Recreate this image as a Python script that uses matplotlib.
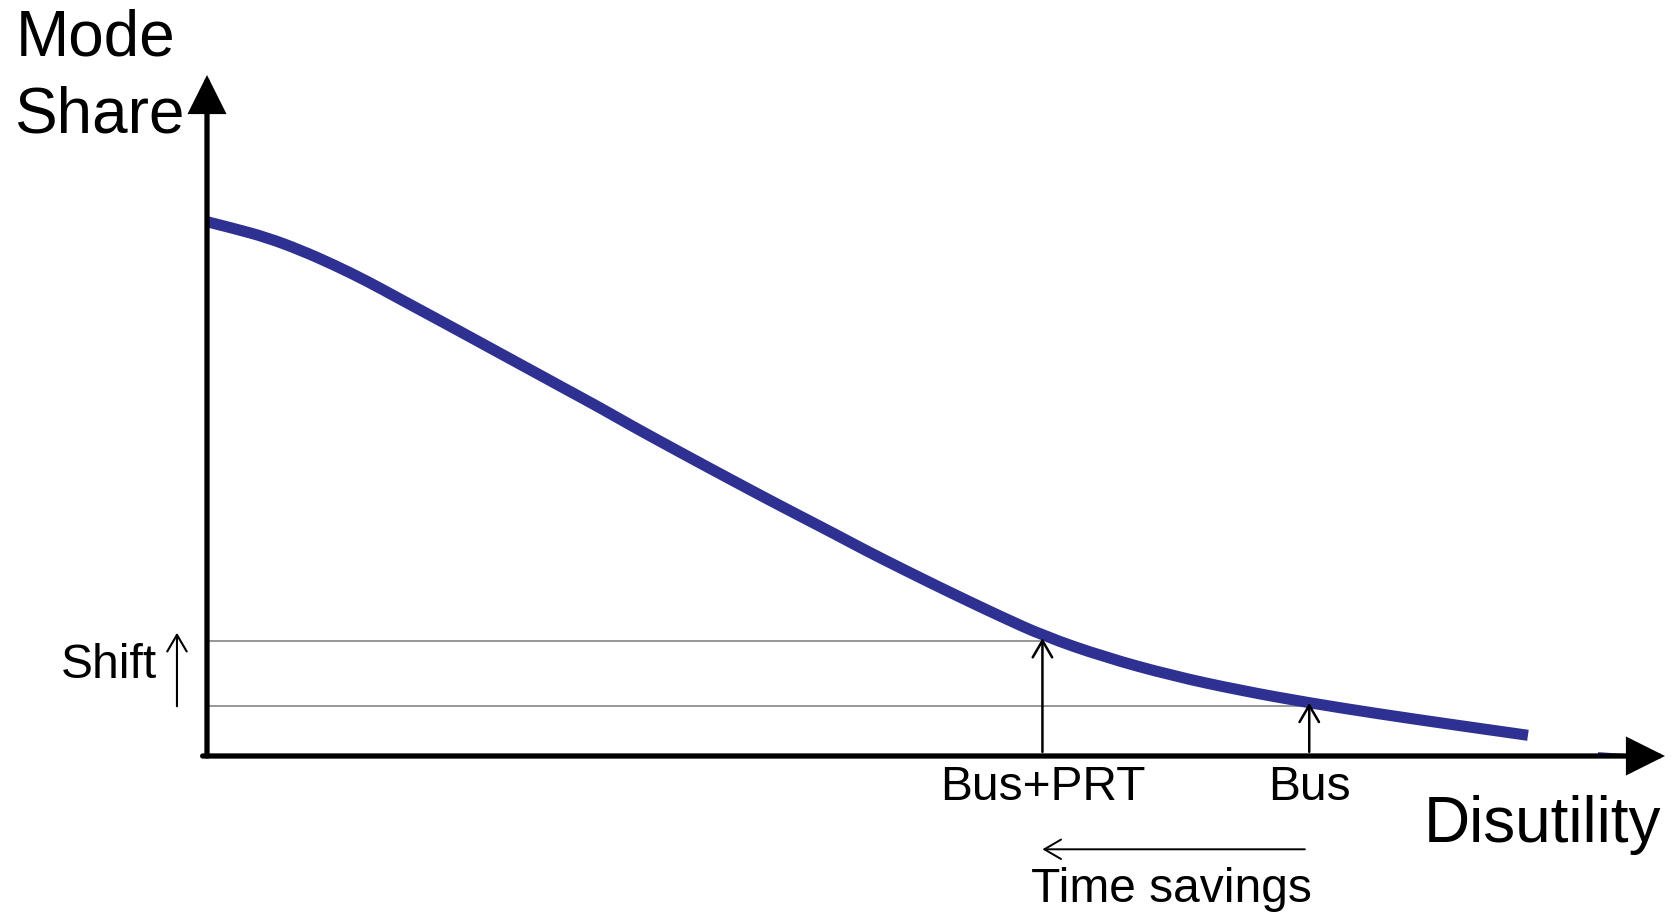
import matplotlib
matplotlib.use("Agg")
import matplotlib.pyplot as plt
from matplotlib.path import Path
from matplotlib.patches import PathPatch
import numpy as np

plt.rcParams['font.family'] = ['Liberation Sans', 'DejaVu Sans']

# logit-style demand curve: disutility vs mode share (arbitrary units 0-100)
disutility = [0.0, 1.8, 4.1, 6.4, 8.7, 11.0, 13.2, 15.5, 17.8, 20.1, 22.4,
              24.7, 27.0, 29.2, 31.5, 33.8, 36.1, 38.4, 40.7, 43.0, 45.2,
              47.5, 49.8, 52.1, 54.4, 57.4, 61.5, 66.2, 70.9, 75.6, 80.4,
              85.1, 90.6]
mode_share = [78.46, 77.49, 76.14, 74.30, 72.13, 69.71, 67.14, 64.49, 61.82,
              59.13, 56.45, 53.76, 51.09, 48.40, 45.71, 43.04, 40.40, 37.78,
              35.21, 32.67, 30.16, 27.68, 25.24, 22.86, 20.53, 17.62, 14.56,
              11.79, 9.62, 7.80, 6.18, 4.71, 3.04]

modes = ['Bus+PRT', 'Bus']
mode_disutility = [57.3, 75.6]
mode_level = [16.9, 7.4]

curve_color = '#2e3192'

fig = plt.figure(figsize=(16.77, 9.13), dpi=100)
ax = fig.add_axes([207 / 1677, 157 / 913, 1458 / 1677, 681 / 913])
ax.set_xlim(0, 100)
ax.set_ylim(0, 100)
ax.axis('off')

# gray guide lines from the y axis to each mode's point
for xm, ym in zip(mode_disutility, mode_level):
    ax.plot([0, xm], [ym, ym], color='#7a7a7a', lw=1.1, clip_on=False, zorder=1)

# tiny bit of curve peeking out under the x-axis arrow
ax.plot([95.5, 98.3], [0.35, -0.05], color=curve_color, lw=2, clip_on=False, zorder=1)

# draw the curve as a smooth quadratic path using the read points as control points
pts = np.column_stack([disutility, mode_share])
verts = [pts[0]]
codes = [Path.MOVETO]
for i in range(1, len(pts) - 1):
    verts += [pts[i], (pts[i] + pts[i + 1]) / 2]
    codes += [Path.CURVE3, Path.CURVE3]
verts.append(pts[-1])
codes.append(Path.LINETO)
curve = PathPatch(Path(verts, codes), facecolor='none', edgecolor=curve_color,
                  lw=8, capstyle='butt', joinstyle='round', clip_on=False, zorder=3)
ax.add_patch(curve)

# axes with filled arrow heads
big_head = dict(arrowstyle='-|>,head_length=1.1,head_width=0.55', mutation_scale=20,
                lw=3.8, color='black', shrinkA=0, shrinkB=0, joinstyle='miter')
ax.annotate('', xy=(0, 100), xytext=(0, 0), arrowprops=big_head, annotation_clip=False)
ax.annotate('', xy=(100, 0), xytext=(-0.3, 0), arrowprops=big_head, annotation_clip=False)

thin_head = dict(arrowstyle='->,head_length=1.2,head_width=0.7', mutation_scale=10,
                 lw=1.8, color='black', shrinkA=0, shrinkB=0)

# arrows from the x axis up to the curve + labels under the axis
for name, xm, ym in zip(modes, mode_disutility, mode_level):
    ax.annotate('', xy=(xm, ym + 0.4), xytext=(xm, 0.6), arrowprops=thin_head,
                annotation_clip=False, zorder=4)
    ax.text(xm, -6.5, name, fontsize=34.5, ha='center', va='baseline')

# shift arrow on the left
ax.annotate('', xy=(-2.06, mode_level[0] + 1.2), xytext=(-2.06, mode_level[1] - 0.1),
            arrowprops=dict(thin_head, lw=1.5), annotation_clip=False)
ax.text(-3.45, 11.4, 'Shift', fontsize=34.5, ha='right', va='baseline')

# time savings arrow below
ax.annotate('', xy=(mode_disutility[0], -13.7), xytext=(mode_disutility[1] - 0.3, -13.7),
            arrowprops=dict(thin_head, lw=1.4), annotation_clip=False)
ax.text(sum(mode_disutility) / 2 - 0.3, -21.4, 'Time savings', fontsize=34.5,
        ha='center', va='baseline')

# axis titles
ax.text(-13.1, 102.9, 'Mode', fontsize=46, ha='left', va='baseline')
ax.text(-13.2, 91.6, 'Share', fontsize=46, ha='left', va='baseline')
ax.text(83.45, -12.6, 'Disutility', fontsize=46, ha='left', va='baseline')

fig.savefig('out.png', dpi=100)
